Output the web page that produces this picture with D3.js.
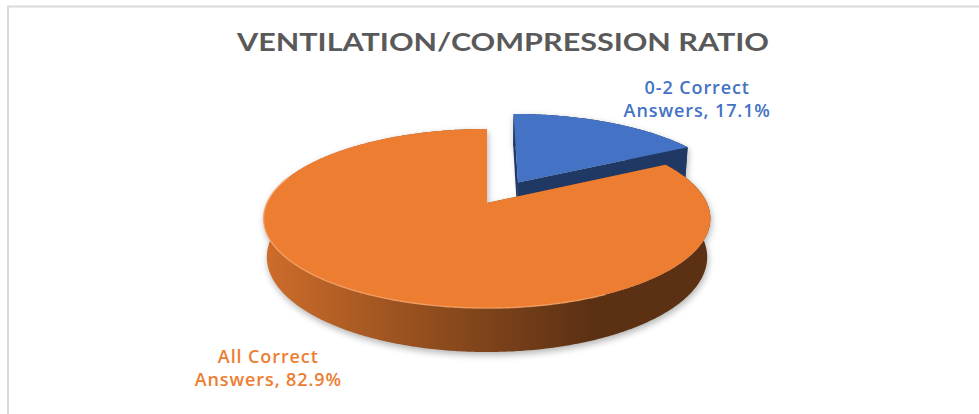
<!DOCTYPE html>
<html>
<head>
<meta charset="utf-8">
<script src="https://cdn.jsdelivr.net/npm/d3@7"></script>
<style>
  html, body { margin: 0; padding: 0; background: #fff; }
  svg { display: block; }
  text { font-family: Lato, "Open Sans", sans-serif; font-weight: 700; }
  text.lbl { font-family: "Open Sans", Lato, sans-serif; font-weight: 600; letter-spacing: 0.9px; }
</style>
</head>
<body>
<div id="chart"></div>
<script>
// data
const title = "VENTILATION/COMPRESSION RATIO";
const categories = ["0-2 Correct Answers", "All Correct Answers"];
const shares = [17.1, 82.9];
const labelLines = [["0-2 Correct", "Answers, 17.1%"], ["All Correct", "Answers, 82.9%"]];
const explode = [0.287, 0];

const width = 979, height = 414;

const topColor = d3.scaleOrdinal().domain(categories).range(["#4472C4", "#ED7D31"]);
const wallColor = d3.scaleOrdinal().domain(categories).range(["#203864", "url(#orangeWall)"]);
const cutColor = d3.scaleOrdinal().domain(categories).range(["#203864", "#8a4a1d"]);

// camera for the 3d look: tilt, distance, focal length
const cam = {cx: 487, cy: 203, f: 1166, d: 5.30, tilt: Math.asin(0.395), depth: 0.19};
const sa = Math.sin(cam.tilt), ca = Math.cos(cam.tilt);

function project(X, Y, Z) {
    let zc = cam.d - Y * sa - Z * ca;
    let yc = Y * ca - Z * sa;
    return [cam.cx + cam.f * X / zc, cam.cy - cam.f * yc / zc];
}
function rim(a, Y, off, r = 1) {
    return project(off[0] + r * Math.sin(a), Y, off[1] - r * Math.cos(a));
}
function arcPts(a0, a1, Y, off) {
    let n = Math.max(2, Math.ceil((a1 - a0) / 0.01));
    return d3.range(n + 1).map(i => rim(a0 + (a1 - a0) * i / n, Y, off));
}

const svg = d3.select("#chart").append("svg")
    .attr("width", width)
    .attr("height", height);

const defs = svg.append("defs");
const grad = defs.append("linearGradient")
    .attr("id", "orangeWall")
    .attr("gradientUnits", "userSpaceOnUse")
    .attr("x1", 262).attr("x2", 590).attr("y1", 0).attr("y2", 0);
grad.append("stop").attr("offset", 0).attr("stop-color", "#cf6d2b");
grad.append("stop").attr("offset", 0.55).attr("stop-color", "#8c4b1d");
grad.append("stop").attr("offset", 1).attr("stop-color", "#5c3113");

defs.append("filter").attr("id", "soft")
    .attr("x", "-10%").attr("y", "-10%").attr("width", "120%").attr("height", "130%")
    .append("feGaussianBlur").attr("stdDeviation", 3.5);

// chart frame
svg.append("rect")
    .attr("x", 8).attr("y", 6.5)
    .attr("width", width + 20).attr("height", height + 20)
    .attr("fill", "none")
    .attr("stroke", "#d9d9d9")
    .attr("stroke-width", 2);

svg.append("text")
    .attr("x", 503).attr("y", 51)
    .attr("text-anchor", "middle")
    .attr("font-size", 25)
    .attr("fill", "#595959")
    .attr("textLength", 532)
    .attr("lengthAdjust", "spacingAndGlyphs")
    .text(title);

const pie = d3.pie().sort(null).value(d => d.v);
const arcs = pie(categories.map((c, i) => ({c: c, v: shares[i], ex: explode[i], lines: labelLines[i]})));
arcs.forEach(d => {
    d.mid = (d.startAngle + d.endAngle) / 2;
    d.off = [d.data.ex * Math.sin(d.mid), -d.data.ex * Math.cos(d.mid)];
});

const line = d3.line();
const h = -cam.depth;

function wallPath(d) {
    let top = arcPts(d.startAngle, d.endAngle, 0, d.off);
    let bot = arcPts(d.startAngle, d.endAngle, h, d.off).reverse();
    return line(top.concat(bot)) + "Z";
}
function topPath(d) {
    return line([project(d.off[0], 0, d.off[1])].concat(arcPts(d.startAngle, d.endAngle, 0, d.off))) + "Z";
}
function cutPath(d, a) {
    return line([
        project(d.off[0], 0, d.off[1]),
        rim(a, 0, d.off),
        rim(a, h, d.off),
        project(d.off[0], h, d.off[1])
    ]) + "Z";
}

// soft shadow under the disc
const shadow = svg.append("g")
    .attr("filter", "url(#soft)")
    .attr("opacity", 0.3)
    .attr("transform", "translate(1,3)");
arcs.forEach(d => {
    shadow.append("path").attr("d", wallPath(d)).attr("fill", "#000");
    shadow.append("path").attr("d", topPath(d)).attr("fill", "#000");
});

// slices, back one first
arcs.forEach(d => {
    let g = svg.append("g");
    g.append("path").attr("d", wallPath(d)).attr("fill", wallColor(d.data.c));
    g.append("path").attr("d", cutPath(d, d.startAngle)).attr("fill", cutColor(d.data.c));
    g.append("path").attr("d", cutPath(d, d.endAngle)).attr("fill", cutColor(d.data.c));
    g.append("path").attr("d", topPath(d)).attr("fill", topColor(d.data.c));
    // bevel highlight on front rim
    let a0 = Math.max(d.startAngle, Math.PI * 0.85), a1 = Math.min(d.endAngle, Math.PI * 1.6);
    if (a1 > a0) {
        g.append("path")
            .attr("d", line(arcPts(a0, a1, 0, d.off)))
            .attr("fill", "none")
            .attr("stroke", "#f8a56b")
            .attr("stroke-width", 1.4)
            .attr("opacity", 0.8);
    }
});

// data labels, placed beside the rim at the slice bisector
arcs.forEach(d => {
    let front = -Math.cos(d.mid) > 0;
    let anchor = rim(d.mid, front ? h : 0, d.off);
    let g = svg.append("g");
    let t = g.selectAll("text").data(d.data.lines).join("text")
        .attr("class", "lbl")
        .attr("text-anchor", "middle")
        .attr("font-size", 18)
        .attr("fill", topColor(d.data.c))
        .attr("x", 0)
        .attr("y", (s, i) => i == 0 ? -7 : 16)
        .text(s => s);
    let w = d3.max(t.nodes(), n => n.getComputedTextLength());
    let sx = Math.sin(d.mid) > 0 ? 1 : -1;
    let lx = anchor[0] + sx * (w / 2 + 15);
    let ly = anchor[1] + (front ? 36 : -21);
    g.attr("transform", `translate(${lx},${ly})`);
});
</script>
</body>
</html>
